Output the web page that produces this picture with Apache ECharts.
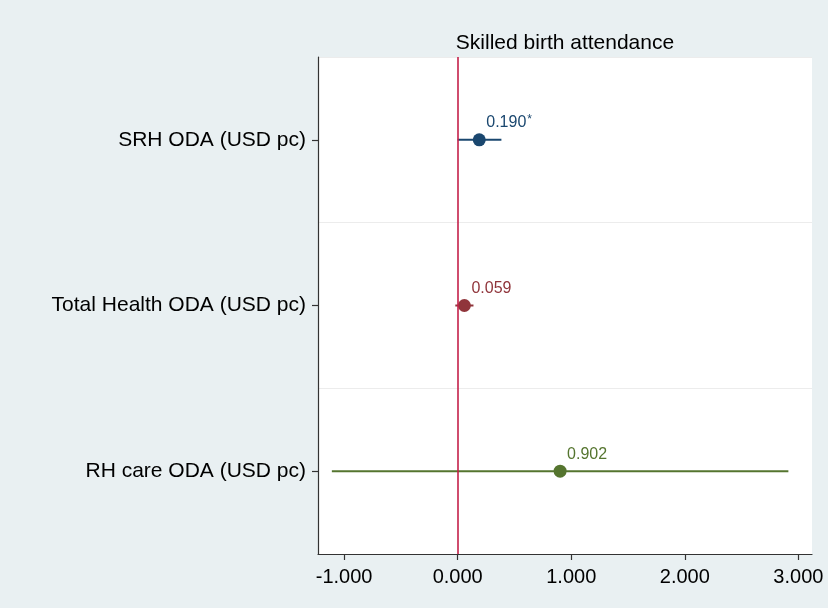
<!DOCTYPE html>
<html>
<head>
<meta charset="utf-8">
<script src="https://cdn.jsdelivr.net/npm/echarts@6/dist/echarts.min.js"></script>
<style>
  html, body { margin: 0; padding: 0; background: #e9f0f2; }
  #chart { width: 828px; height: 608px; }
</style>
</head>
<body>
<div id="chart"></div>
<script>
// Coefficient plot: effect of ODA per capita on skilled birth attendance
const categories = ['SRH ODA (USD pc)', 'Total Health ODA (USD pc)', 'RH care ODA (USD pc)'];
const estimates  = [0.190, 0.059, 0.902];
const ciLower    = [0.000, -0.021, -1.108];
const ciUpper    = [0.385, 0.139, 2.912];
const stars      = ['*', '', ''];
const colors     = ['#1a476f', '#90353b', '#55752f'];
const xTicks     = [-1, 0, 1, 2, 3];
const titleText  = 'Skilled birth attendance';

const W = 828, H = 608;
const grid = { left: 318, right: 16, top: 57, bottom: 54 };
const FONT = '"Liberation Sans", Arial, Helvetica, sans-serif';

const chart = echarts.init(document.getElementById('chart'), null, { renderer: 'canvas' });

const ciData = categories.map((c, i) => [ciLower[i], ciUpper[i], i]);
const pointData = categories.map((c, i) => ({
  value: [estimates[i], i],
  itemStyle: { color: colors[i], opacity: 1 },
  label: { color: colors[i] }
}));

chart.setOption({
  backgroundColor: '#e9f0f2',
  animation: false,
  textStyle: { fontFamily: FONT },
  graphic: [{
    type: 'text',
    x: grid.left + (W - grid.left - grid.right) / 2,
    y: 43,
    style: {
      text: titleText,
      fontFamily: FONT,
      fontSize: 21,
      fill: '#000',
      textAlign: 'center',
      textVerticalAlign: 'middle'
    }
  }],
  grid: {
    left: grid.left, right: grid.right, top: grid.top, bottom: grid.bottom,
    show: true, backgroundColor: '#ffffff', borderWidth: 0
  },
  xAxis: {
    type: 'value',
    min: -1.23,
    max: 3.12,
    axisLine: { show: true, onZero: false, lineStyle: { color: '#333', width: 1.2 } },
    axisTick: { show: true, length: 6, customValues: xTicks, lineStyle: { color: '#333', width: 1.2 } },
    axisLabel: {
      customValues: xTicks,
      formatter: v => v.toFixed(3),
      fontSize: 20, color: '#000', margin: 13, fontFamily: FONT
    },
    splitLine: { show: false }
  },
  yAxis: {
    type: 'category',
    data: categories,
    inverse: true,
    boundaryGap: true,
    axisLine: { show: true, onZero: false, lineStyle: { color: '#333', width: 1.2 } },
    axisTick: { show: true, alignWithLabel: true, length: 6, lineStyle: { color: '#333', width: 1.2 } },
    axisLabel: { fontSize: 21, color: '#000', margin: 12, fontFamily: FONT },
    splitLine: { show: true, lineStyle: { color: '#ececec', width: 1.2 } }
  },
  series: [
    {
      // confidence intervals
      type: 'custom',
      z: 2,
      data: ciData,
      encode: { x: [0, 1], y: 2 },
      renderItem: (params, api) => {
        const i = api.value(2);
        const p0 = api.coord([api.value(0), i]);
        const p1 = api.coord([api.value(1), i]);
        return {
          type: 'line',
          shape: { x1: p0[0], y1: p0[1], x2: p1[0], y2: p1[1] },
          style: { stroke: colors[i], lineWidth: 2 }
        };
      }
    },
    {
      // zero reference line
      type: 'scatter',
      z: 3,
      data: [],
      markLine: {
        silent: true,
        symbol: 'none',
        label: { show: false },
        lineStyle: { color: '#c4204a', width: 1.6, type: 'solid' },
        data: [{ xAxis: 0 }]
      }
    },
    {
      // point estimates
      type: 'scatter',
      z: 4,
      symbol: 'circle',
      symbolSize: 13,
      data: pointData,
      label: {
        show: true,
        position: [13.5, -10.5],
        align: 'left',
        verticalAlign: 'middle',
        fontSize: 16,
        fontFamily: FONT,
        formatter: p => {
          const i = p.value[1];
          const s = stars[i];
          return '{v|' + estimates[i].toFixed(3) + '}' + (s ? '{s|' + s + '}' : '');
        },
        rich: {
          v: { fontSize: 16, fontFamily: FONT },
          s: { fontSize: 12, fontFamily: FONT, padding: [0, 0, 7, 1] }
        }
      }
    }
  ]
});
</script>
</body>
</html>
